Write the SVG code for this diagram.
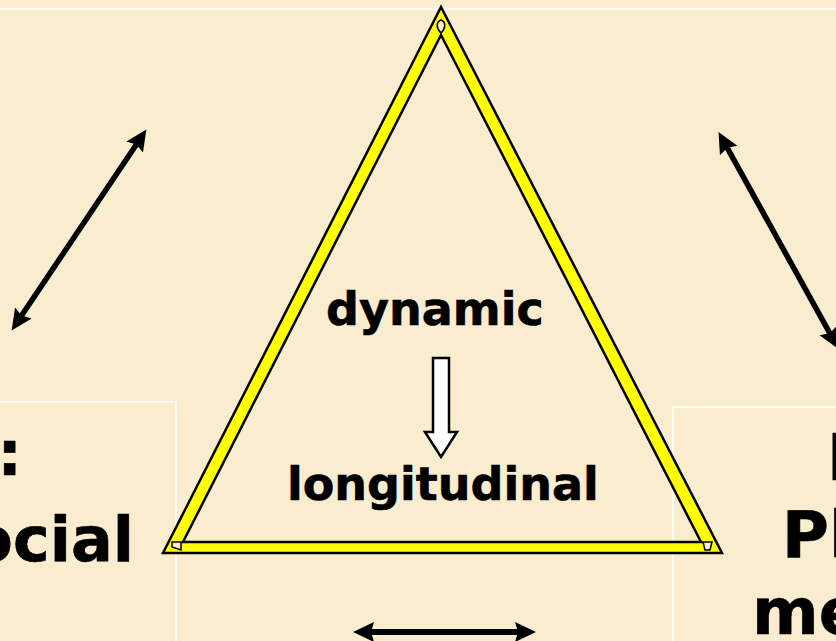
<svg xmlns="http://www.w3.org/2000/svg" width="836" height="641" viewBox="0 0 836 641">
<style>
.t{font-family:"DejaVu Sans",Verdana,sans-serif;font-weight:bold;fill:#000;stroke:#000;stroke-width:0.6}
.c{stroke:#000;fill:none}
.box{fill:none;stroke:#fff;stroke-width:1.5}
.bg{fill:#faedcf}
</style>
<defs>
<marker id="ah" markerUnits="userSpaceOnUse" markerWidth="24" markerHeight="22" refX="13" refY="10" orient="auto-start-reverse" viewBox="0 0 24 22">
<path d="M0,0 L21,10 L0,20 L3,10 z" fill="#000"/>
</marker>
</defs>
<rect class="bg" width="836" height="641"/>
<g id="frames">
<line x1="0" y1="9" x2="836" y2="9" stroke="#fff" stroke-width="1.5"/>
<rect class="box" x="-2" y="402" width="178" height="250"/>
<rect class="box" x="673" y="407" width="170" height="250"/>
</g>
<g id="triangle">
<path d="M441,7 L163,553 L722,553 Z M441,35 L701,542 L183,542 Z" fill="#ffff00" fill-rule="evenodd" stroke="#000" stroke-width="2.5" stroke-linejoin="miter"/>
<path d="M441,33 C436,28 436,22 441,20 C446,22 446,28 441,33 Z" class="bg" stroke="#000" stroke-width="1.5"/>
<path d="M172,542 L181,542 L181,550 L172,547 Z" class="bg" stroke="#000" stroke-width="1.5"/>
<path d="M703,542 L712,542 L710,550 L705,550 Z" class="bg" stroke="#000" stroke-width="1.5"/>
</g>
<g id="center">
<text class="t" x="326" y="325" font-size="46">dynamic</text>
<text class="t" x="287" y="500" font-size="46">longitudinal</text>
</g>
<g id="left-node">
<text class="t" x="22" y="475" font-size="62" text-anchor="end">:</text>
<text class="t" x="134" y="561" font-size="62" text-anchor="end">ocial</text>
</g>
<g id="right-node">
<text class="t" x="827" y="480" font-size="64">I</text>
<text class="t" x="782" y="557" font-size="64">Pl</text>
<text class="t" x="752" y="634" font-size="64">me</text>
</g>
<g id="connectors">
<line class="c" x1="141.9" y1="136.2" x2="16.1" y2="323.8" stroke-width="5.5" marker-start="url(#ah)" marker-end="url(#ah)"/>
<line class="c" x1="722.4" y1="139.1" x2="834.6" y2="341.9" stroke-width="5.5" marker-start="url(#ah)" marker-end="url(#ah)"/>
<line class="c" x1="361" y1="632" x2="528" y2="632" stroke-width="6" marker-start="url(#ah)" marker-end="url(#ah)"/>
<polygon points="433,358 449,358 449,432 457,432 441,457 425,432 433,432" fill="#fff" stroke="#000" stroke-width="2.5"/>
</g>
</svg>
